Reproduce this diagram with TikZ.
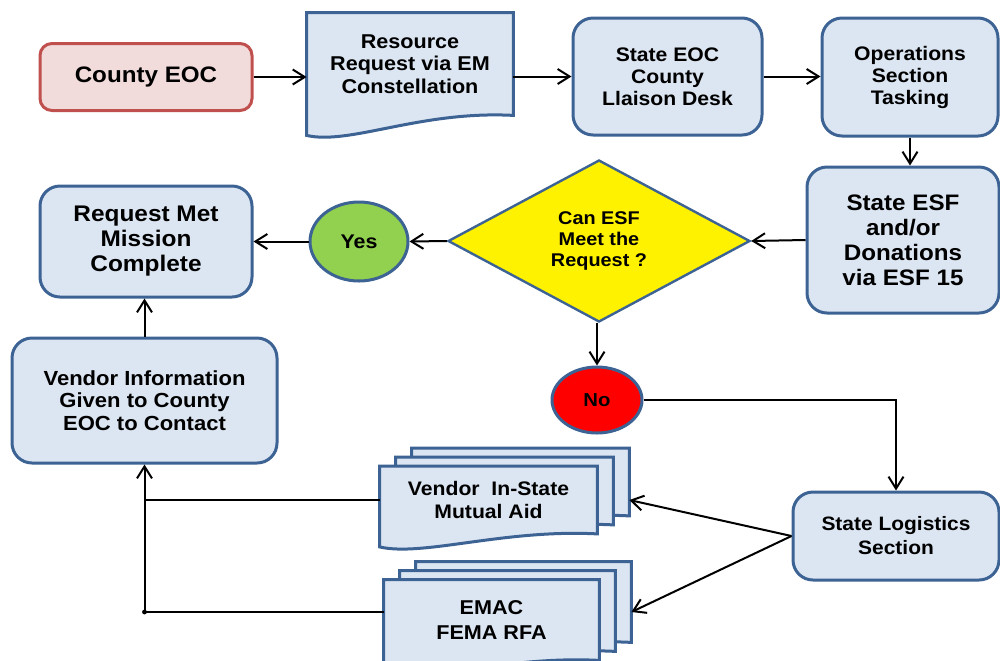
\documentclass[tikz,border=0pt]{standalone}
\usepackage{fontspec}
\setmainfont[FakeStretch=1.08]{Liberation Sans}
\usetikzlibrary{shapes.geometric,arrows.meta}
\pgfdeclarelayer{bg}
\pgfsetlayers{bg,main}
\definecolor{boxfill}{HTML}{DCE6F2}
\definecolor{boxline}{HTML}{3C6394}
\definecolor{eocfill}{HTML}{F2DCDB}
\definecolor{eocline}{HTML}{C0504D}
\definecolor{yesgreen}{HTML}{92D050}
\newcommand{\fs}[2]{\fontsize{#1}{#2}\selectfont}
% one page of a document shape: node, dx, dy, drop of the left corner
\newcommand{\docpage}[4]{%
  \path[docpage] ([shift={(#2,#3)}]#1.south east) -- ([shift={(#2,#3)}]#1.north east)
    -- ([shift={(#2,#3)}]#1.north west) -- ([shift={(#2,#3+#4)}]#1.south west)
    .. controls +(43,10) and +(-93,-5) .. ([shift={(#2,#3)}]#1.south east) -- cycle;}

\begin{document}
\begin{tikzpicture}[x=0.5pt, y=-0.5pt,
    every node/.style={font=\bfseries, text=black, align=center},
    box/.style={draw=boxline, fill=boxfill, line width=1.5pt, rounded corners=10pt},
    eoc/.style={draw=eocline, fill=eocfill, line width=1.5pt, rounded corners=6pt},
    docpage/.style={draw=boxline, fill=boxfill, line width=1.5pt},
    docnode/.style={inner sep=0pt},
    decision/.style={diamond, draw=boxline, fill=yellow, line width=1.2pt, aspect=1.86, inner sep=0pt},
    answer/.style={ellipse, draw=boxline, line width=1.5pt, inner sep=0pt},
    arr/.style={-{Straight Barb[length=6pt,width=7.5pt]}, line width=1pt}
  ]
  \useasboundingbox (0,0) rectangle (1000,660);

  % top row
  \node[eoc, minimum width=106pt, minimum height=33.5pt, font=\bfseries\fs{11.2}{13}] (county) at (146,77) {County EOC};
  \node[docnode, minimum width=103pt, minimum height=51pt, font=\bfseries\fs{10}{11.2}] (resource) at (410,64)
    {Resource\\Request via EM\\Constellation};
  \node[box, minimum width=94.5pt, minimum height=58.5pt, font=\bfseries\fs{9.8}{11}] (stateeoc) at (667.5,76.5)
    {State EOC\\County\\Llaison Desk};
  \node[box, minimum width=88pt, minimum height=59pt, font=\bfseries\fs{9.8}{11}] (ops) at (910,77)
    {Operations\\Section\\Tasking};

  % middle row
  \node[box, minimum width=96pt, minimum height=73pt, font=\bfseries\fs{11.2}{12.5}] (esf) at (903,240)
    {State ESF\\and/or\\Donations\\via ESF 15};
  \node[decision, minimum width=151pt, minimum height=81pt, font=\bfseries\fs{9.2}{10.5}] (dec) at (599,241)
    {Can ESF\\Meet the\\Request ?};
  \node[answer, fill=yesgreen, minimum width=49pt, minimum height=39.5pt, font=\bfseries\fs{9.9}{11}] (yes) at (359,241.5) {Yes};
  \node[box, minimum width=106pt, minimum height=55.5pt, font=\bfseries\fs{11.3}{12.5}] (reqmet) at (146,241.5)
    {Request Met\\Mission\\Complete};

  % lower part
  \node[answer, fill=red, minimum width=45pt, minimum height=33pt, font=\bfseries\fs{9.4}{10}] (no) at (597,400) {No};
  \node[box, minimum width=132.5pt, minimum height=62.5pt, font=\bfseries\fs{10.2}{11.25}] (vinfo) at (144.5,400.5)
    {Vendor Information\\Given to County\\EOC to Contact};
  \node[box, minimum width=103pt, minimum height=44pt, font=\bfseries\fs{9.7}{12}] (logistics) at (896,536)
    {State Logistics\\Section};
  \node[docnode, minimum width=108.5pt, minimum height=33.5pt, font=\bfseries\fs{9.8}{11.5}] (vendor) at (488.5,500)
    {Vendor~~In-State\\Mutual Aid};
  \node[docnode, minimum width=107.5pt, minimum height=40pt, font=\bfseries\fs{10}{12.5}] (emac) at (491.5,620)
    {EMAC\\FEMA RFA};

  % document shapes behind the texts
  \begin{pgfonlayer}{bg}
    \docpage{resource}{0}{0}{20}
    \foreach \i in {2,1,0} {
      \docpage{vendor}{16*\i}{-9*\i}{13}
      \docpage{emac}{16*\i}{-9*\i}{13}
    }
  \end{pgfonlayer}

  % connectors
  \draw[arr] (county.east) -- (county.east -| resource.west);
  \draw[arr] (resource.east |- stateeoc.west) -- (stateeoc.west);
  \draw[arr] (stateeoc.east) -- (stateeoc.east -| ops.west);
  \draw[arr] (ops.south) -- (ops.south |- esf.north);
  \draw[arr] (esf.west) -- (dec.east);
  \draw[arr] (dec.west) -- (yes.east);
  \draw[arr] (yes.west) -- (yes.west -| reqmet.east);
  \draw[arr] (no.north |- dec.south) -- (no.north);
  \draw[arr] (no.east) -| (logistics.north);
  \draw[arr] (logistics.west) -- ([shift={(32,0)}]vendor.east);
  \draw[arr] (logistics.west) -- ([shift={(32,-8)}]emac.east);
  \draw[arr] (vinfo.north) -- (vinfo.north |- reqmet.south);
  \draw[arr] ([shift={(0,-8)}]emac.west) -| (vinfo.south);
  \draw[line width=1pt] (vendor.west) -- (vendor.west -| vinfo.south);
  \fill ([shift={(0,-8)}]emac.west -| vinfo.south) circle (1.2pt);

\end{tikzpicture}
\end{document}
